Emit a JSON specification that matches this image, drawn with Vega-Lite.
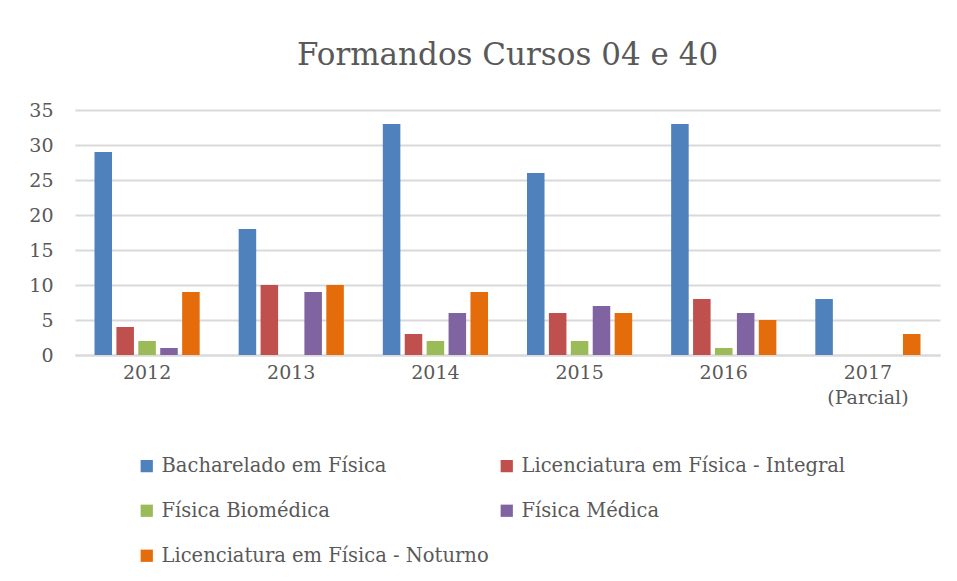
{
  "$schema": "https://vega.github.io/schema/vega-lite/v6.json",
  "width": 865,
  "height": 245,
  "autosize": {"type": "none"},
  "padding": {"left": 75, "top": 110, "right": 17, "bottom": 226},
  "background": "white",
  "title": {
    "text": "Formandos Cursos 04 e 40",
    "font": "DejaVu Serif",
    "fontSize": 31,
    "fontWeight": "normal",
    "color": "#595959",
    "anchor": "middle",
    "offset": 29
  },
  "data": {
    "values": [
      {"ano": "2012", "curso": "Bacharelado em Física", "n": 29},
      {"ano": "2012", "curso": "Licenciatura em Física - Integral", "n": 4},
      {"ano": "2012", "curso": "Física Biomédica", "n": 2},
      {"ano": "2012", "curso": "Física Médica", "n": 1},
      {"ano": "2012", "curso": "Licenciatura em Física - Noturno", "n": 9},
      {"ano": "2013", "curso": "Bacharelado em Física", "n": 18},
      {"ano": "2013", "curso": "Licenciatura em Física - Integral", "n": 10},
      {"ano": "2013", "curso": "Física Biomédica", "n": 0},
      {"ano": "2013", "curso": "Física Médica", "n": 9},
      {"ano": "2013", "curso": "Licenciatura em Física - Noturno", "n": 10},
      {"ano": "2014", "curso": "Bacharelado em Física", "n": 33},
      {"ano": "2014", "curso": "Licenciatura em Física - Integral", "n": 3},
      {"ano": "2014", "curso": "Física Biomédica", "n": 2},
      {"ano": "2014", "curso": "Física Médica", "n": 6},
      {"ano": "2014", "curso": "Licenciatura em Física - Noturno", "n": 9},
      {"ano": "2015", "curso": "Bacharelado em Física", "n": 26},
      {"ano": "2015", "curso": "Licenciatura em Física - Integral", "n": 6},
      {"ano": "2015", "curso": "Física Biomédica", "n": 2},
      {"ano": "2015", "curso": "Física Médica", "n": 7},
      {"ano": "2015", "curso": "Licenciatura em Física - Noturno", "n": 6},
      {"ano": "2016", "curso": "Bacharelado em Física", "n": 33},
      {"ano": "2016", "curso": "Licenciatura em Física - Integral", "n": 8},
      {"ano": "2016", "curso": "Física Biomédica", "n": 1},
      {"ano": "2016", "curso": "Física Médica", "n": 6},
      {"ano": "2016", "curso": "Licenciatura em Física - Noturno", "n": 5},
      {"ano": "2017 (Parcial)", "curso": "Bacharelado em Física", "n": 8},
      {"ano": "2017 (Parcial)", "curso": "Licenciatura em Física - Integral", "n": 0},
      {"ano": "2017 (Parcial)", "curso": "Física Biomédica", "n": 0},
      {"ano": "2017 (Parcial)", "curso": "Física Médica", "n": 0},
      {"ano": "2017 (Parcial)", "curso": "Licenciatura em Física - Noturno", "n": 3}
    ]
  },
  "mark": {"type": "bar"},
  "encoding": {
    "x": {
      "field": "ano",
      "type": "nominal",
      "sort": null,
      "scale": {"paddingInner": 0.24, "paddingOuter": 0.12},
      "axis": {
        "title": null,
        "labelAngle": 0,
        "labelFont": "DejaVu Serif",
        "labelFontSize": 19,
        "labelColor": "#595959",
        "labelPadding": 8,
        "ticks": false,
        "domainColor": "#D9D9D9",
        "domainWidth": 2,
        "labelExpr": "datum.value == '2017 (Parcial)' ? ['2017', '(Parcial)'] : datum.value",
        "labelLineHeight": 25
      }
    },
    "xOffset": {
      "field": "curso",
      "type": "nominal",
      "sort": ["Bacharelado em Física", "Licenciatura em Física - Integral", "Física Biomédica", "Física Médica", "Licenciatura em Física - Noturno"],
      "scale": {"paddingInner": 0.2, "paddingOuter": 0.1}
    },
    "y": {
      "field": "n",
      "type": "quantitative",
      "scale": {"domain": [0, 35]},
      "axis": {
        "title": null,
        "values": [0, 5, 10, 15, 20, 25, 30, 35],
        "labelFont": "DejaVu Serif",
        "labelFontSize": 19,
        "labelColor": "#595959",
        "labelPadding": 22,
        "ticks": false,
        "domain": false,
        "gridColor": "#D9D9D9",
        "gridWidth": 2
      }
    },
    "color": {
      "field": "curso",
      "type": "nominal",
      "sort": ["Bacharelado em Física", "Licenciatura em Física - Integral", "Física Biomédica", "Física Médica", "Licenciatura em Física - Noturno"],
      "scale": {
        "domain": ["Bacharelado em Física", "Licenciatura em Física - Integral", "Física Biomédica", "Física Médica", "Licenciatura em Física - Noturno"],
        "range": ["#4F81BD", "#C0504D", "#9BBB59", "#8064A2", "#E46C0A"]
      },
      "legend": {
        "title": null,
        "orient": "none",
        "direction": "horizontal",
        "legendX": 62,
        "legendY": 346,
        "columns": 2,
        "columnPadding": 8,
        "rowPadding": 24,
        "symbolType": "square",
        "symbolSize": 150,
        "symbolStrokeWidth": 0,
        "labelFont": "DejaVu Serif",
        "labelFontSize": 19.5,
        "labelColor": "#595959",
        "labelOffset": 5,
        "labelLimit": 500
      }
    }
  },
  "config": {"view": {"stroke": null}}
}
